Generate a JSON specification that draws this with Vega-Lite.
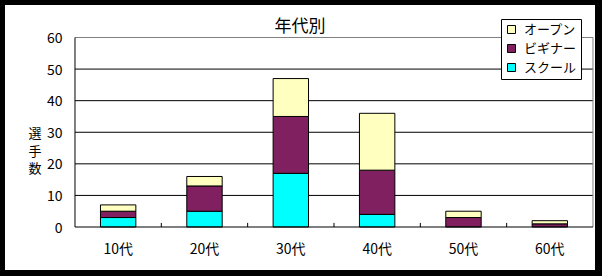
{
  "$schema": "https://vega.github.io/schema/vega-lite/v6.json",
  "width": 590,
  "height": 265,
  "autosize": {"type": "none"},
  "padding": {"left": 5, "top": 5, "right": 7, "bottom": 6},
  "background": "black",
  "view": {"fill": "white", "stroke": null},
  "title": {"text": "年代別", "anchor": "middle", "frame": "group", "offset": -31, "fontSize": 17, "fontWeight": "normal", "color": "black"},
  "config": {"font": "Noto Sans CJK JP"},
  "datasets": {
    "bars": [
      {"age": "10代", "type": "スクール", "series": 1, "count": 3},
      {"age": "10代", "type": "ビギナー", "series": 2, "count": 2},
      {"age": "10代", "type": "オープン", "series": 3, "count": 2},
      {"age": "20代", "type": "スクール", "series": 1, "count": 5},
      {"age": "20代", "type": "ビギナー", "series": 2, "count": 8},
      {"age": "20代", "type": "オープン", "series": 3, "count": 3},
      {"age": "30代", "type": "スクール", "series": 1, "count": 17},
      {"age": "30代", "type": "ビギナー", "series": 2, "count": 18},
      {"age": "30代", "type": "オープン", "series": 3, "count": 12},
      {"age": "40代", "type": "スクール", "series": 1, "count": 4},
      {"age": "40代", "type": "ビギナー", "series": 2, "count": 14},
      {"age": "40代", "type": "オープン", "series": 3, "count": 18},
      {"age": "50代", "type": "ビギナー", "series": 2, "count": 3},
      {"age": "50代", "type": "オープン", "series": 3, "count": 2},
      {"age": "60代", "type": "ビギナー", "series": 2, "count": 1},
      {"age": "60代", "type": "オープン", "series": 3, "count": 1}
    ],
    "grid": [{"v": 10}, {"v": 20}, {"v": 30}, {"v": 40}, {"v": 50}],
    "bounds": [{"age": "20代"}, {"age": "30代"}, {"age": "40代"}, {"age": "50代"}, {"age": "60代"}],
    "one": [{}]
  },
  "layer": [
    {
      "data": {"name": "grid"},
      "mark": {"type": "rule", "color": "black", "strokeWidth": 1},
      "encoding": {
        "y": {"field": "v", "type": "quantitative"},
        "x": {"datum": "10代", "bandPosition": 0},
        "x2": {"datum": "60代", "bandPosition": 1}
      }
    },
    {
      "data": {"name": "one"},
      "mark": {"type": "rule", "color": "#808080", "strokeWidth": 1},
      "encoding": {
        "y": {"datum": 60},
        "x": {"datum": "10代", "bandPosition": 0},
        "x2": {"datum": "60代", "bandPosition": 1}
      }
    },
    {
      "data": {"name": "one"},
      "mark": {"type": "rule", "color": "#808080", "strokeWidth": 1},
      "encoding": {
        "x": {"datum": "60代", "bandPosition": 1},
        "y": {"datum": 0},
        "y2": {"datum": 60}
      }
    },
    {
      "data": {"name": "bounds"},
      "mark": {"type": "rule", "color": "black", "strokeWidth": 1},
      "encoding": {
        "x": {"field": "age", "type": "nominal", "bandPosition": 0},
        "y": {"datum": 0},
        "y2": {"datum": 1.3}
      }
    },
    {
      "data": {"name": "bars"},
      "mark": {"type": "bar", "stroke": "black", "strokeWidth": 1, "width": {"band": 0.41}},
      "encoding": {
        "x": {
          "field": "age", "type": "nominal",
          "scale": {"domain": ["10代", "20代", "30代", "40代", "50代", "60代"], "paddingInner": 0, "paddingOuter": 0.417, "align": 0.972},
          "axis": {"title": null, "labelAngle": 0, "labelAlign": "center", "domain": false, "grid": false, "ticks": false, "bandPosition": 0.5, "labelPadding": 22, "labelFontSize": 14, "labelColor": "black", "offset": -43}
        },
        "y": {
          "field": "count", "type": "quantitative", "stack": "zero",
          "scale": {"domain": [-13.61, 70.29], "nice": false, "zero": false},
          "axis": {"values": [0, 10, 20, 30, 40, 50, 60], "grid": false, "domain": false, "ticks": false, "offset": -70, "labelPadding": 13, "labelOffset": 1, "labelFontSize": 14, "labelColor": "black", "title": ["選", "手", "数"], "titleAngle": 0, "titleX": -40.5, "titleY": 128.5, "titleAlign": "center", "titleBaseline": "middle", "titleFontSize": 13, "titleFontWeight": "normal", "titleLineHeight": 17.5, "titleColor": "black"}
        },
        "order": {"field": "series", "type": "quantitative", "sort": "ascending"},
        "color": {
          "field": "type", "type": "nominal",
          "scale": {"domain": ["オープン", "ビギナー", "スクール"], "range": ["#FFFFC0", "#802060", "#00FFFF"]},
          "legend": {"title": null, "orient": "top-right", "offset": 14, "fillColor": "white", "strokeColor": "black", "padding": 4, "symbolType": "square", "symbolSize": 64, "symbolStrokeColor": "black", "symbolStrokeWidth": 1, "labelFontSize": 13, "labelColor": "black", "labelOffset": 6, "rowPadding": 5}
        }
      }
    },
    {
      "data": {"name": "one"},
      "mark": {"type": "rule", "color": "black", "strokeWidth": 1},
      "encoding": {
        "x": {"datum": "10代", "bandPosition": 0},
        "y": {"datum": 0},
        "y2": {"datum": 60}
      }
    },
    {
      "data": {"name": "one"},
      "mark": {"type": "rule", "color": "black", "strokeWidth": 1},
      "encoding": {
        "y": {"datum": 0},
        "x": {"datum": "10代", "bandPosition": 0},
        "x2": {"datum": "60代", "bandPosition": 1}
      }
    }
  ]
}
